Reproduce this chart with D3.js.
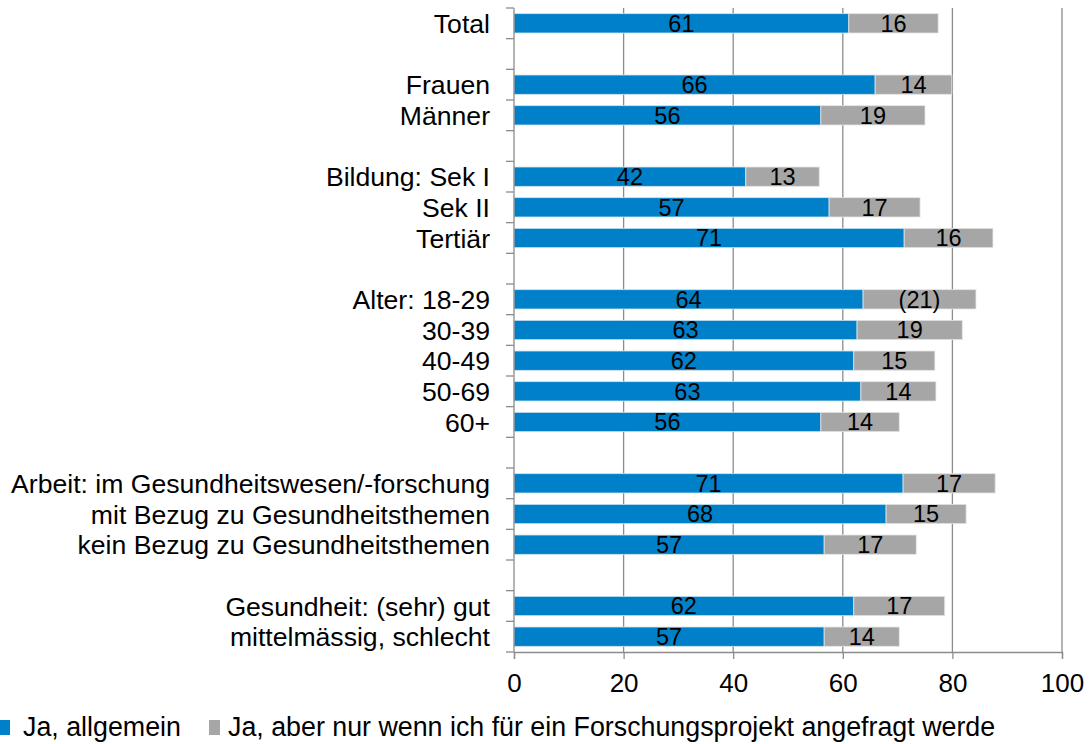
<!DOCTYPE html>
<html><head><meta charset="utf-8">
<script src="https://cdn.jsdelivr.net/npm/d3@7"></script>
<style>body{margin:0;background:#fff;} svg{display:block;} text{font-family:"Liberation Sans",Arial,Helvetica,sans-serif;}</style>
</head><body>
<svg id="c" width="1089" height="744"></svg>
<script>
const categories = ["Total","","Frauen","Männer","","Bildung: Sek I","Sek II","Tertiär","","Alter: 18-29","30-39","40-49","50-69","60+","","Arbeit: im Gesundheitswesen/-forschung","mit Bezug zu Gesundheitsthemen","kein Bezug zu Gesundheitsthemen","","Gesundheit: (sehr) gut","mittelmässig, schlecht"];
const allgemein = [61.1,null,65.9,56.0,null,42.3,57.5,71.2,null,63.7,62.6,62.0,63.3,56.0,null,71.0,67.9,56.6,null,62.0,56.6];
const projekt   = [16.3,null,14.0,19.0,null,13.4,16.6,16.2,null,20.6,19.2,14.8,13.7,14.3,null,16.8,14.6,16.8,null,16.6,13.7];
const labelsA   = ["61","","66","56","","42","57","71","","64","63","62","63","56","","71","68","57","","62","57"];
const labelsB   = ["16","","14","19","","13","17","16","","(21)","19","15","14","14","","17","15","17","","17","14"];
const xTicks = [0,20,40,60,80,100];
const seriesNames = ["Ja, allgemein","Ja, aber nur wenn ich für ein Forschungsprojekt angefragt werde"];
const colors = ["#0080C9","#A6A6A6"];

(function(){
const svg = d3.select("#c");
const mL = 514, mR = 1062, mT = 8, mB = 652;
const x = d3.scaleLinear().domain([0,100]).range([mL,mR]);
const y = d3.scaleBand().domain(d3.range(categories.length)).range([mT,mB]).paddingInner(0.37).paddingOuter(0.185);
const yb = d3.scaleBand().domain(d3.range(categories.length)).range([mT,mB]);

svg.append("g").selectAll("line").data(xTicks.slice(1)).join("line")
  .attr("x1",d=>x(d)).attr("x2",d=>x(d)).attr("y1",mT).attr("y2",mB)
  .attr("stroke","#8c8c8c").attr("stroke-width",1.3);

const rows = d3.range(categories.length).filter(i=>allgemein[i]!==null);
svg.append("g").selectAll("rect").data(rows).join("rect")
  .attr("x",x(0)).attr("y",i=>y(i)).attr("width",i=>x(allgemein[i])-x(0)).attr("height",y.bandwidth())
  .attr("fill",colors[0]).attr("stroke","#cfe3f1").attr("stroke-width",0.8);
svg.append("g").selectAll("rect").data(rows).join("rect")
  .attr("x",i=>x(allgemein[i])).attr("y",i=>y(i)).attr("width",i=>x(allgemein[i]+projekt[i])-x(allgemein[i])).attr("height",y.bandwidth())
  .attr("fill",colors[1]).attr("stroke","#e6e6e6").attr("stroke-width",0.8);

const lab = svg.append("g").attr("font-size",23.5).attr("fill","#000").attr("text-anchor","middle");
lab.selectAll("text.a").data(rows).join("text").attr("class","a")
  .attr("x",i=>(x(0)+x(allgemein[i]))/2).attr("y",i=>y(i)+y.bandwidth()/2).attr("dy","0.36em").text(i=>labelsA[i]);
lab.selectAll("text.b").data(rows).join("text").attr("class","b")
  .attr("x",i=>(x(allgemein[i])+x(allgemein[i]+projekt[i]))/2).attr("y",i=>y(i)+y.bandwidth()/2).attr("dy","0.36em").text(i=>labelsB[i]);

const ya = svg.append("g");
ya.append("line").attr("x1",mL).attr("x2",mL).attr("y1",mT).attr("y2",mB).attr("stroke","#8c8c8c").attr("stroke-width",1.3);
ya.selectAll("line.t").data(d3.range(categories.length+1)).join("line").attr("class","t")
  .attr("x1",mL-8).attr("x2",mL).attr("y1",i=>mT+i*yb.step()).attr("y2",i=>mT+i*yb.step())
  .attr("stroke","#8c8c8c").attr("stroke-width",1.3);
ya.selectAll("text").data(rows).join("text")
  .attr("x",490).attr("y",i=>y(i)+y.bandwidth()/2).attr("dy","0.36em").attr("text-anchor","end")
  .attr("font-size",26.6).text(i=>categories[i]);

const xa = svg.append("g").attr("transform",`translate(0,${mB})`)
  .call(d3.axisBottom(x).tickValues(xTicks).tickSize(7).tickPadding(15).tickFormat(d3.format("d")));
xa.select(".domain").attr("stroke","#8c8c8c").attr("stroke-width",1.3);
xa.selectAll(".tick line").attr("stroke","#8c8c8c").attr("stroke-width",1.3);
xa.selectAll(".tick text").attr("font-size",26).attr("font-family","Liberation Sans, Arial, sans-serif").attr("fill","#000");

const lg = svg.append("g");
const lx = [-1,209];
seriesNames.forEach((n,k)=>{
  lg.append("rect").attr("x",lx[k]).attr("y",720).attr("width",11).attr("height",15).attr("fill",colors[k]);
  lg.append("text").attr("x",lx[k]+(k===0?24:19)).attr("y",736).attr("font-size",26.8).text(n);
});
})();
</script>
</body></html>
